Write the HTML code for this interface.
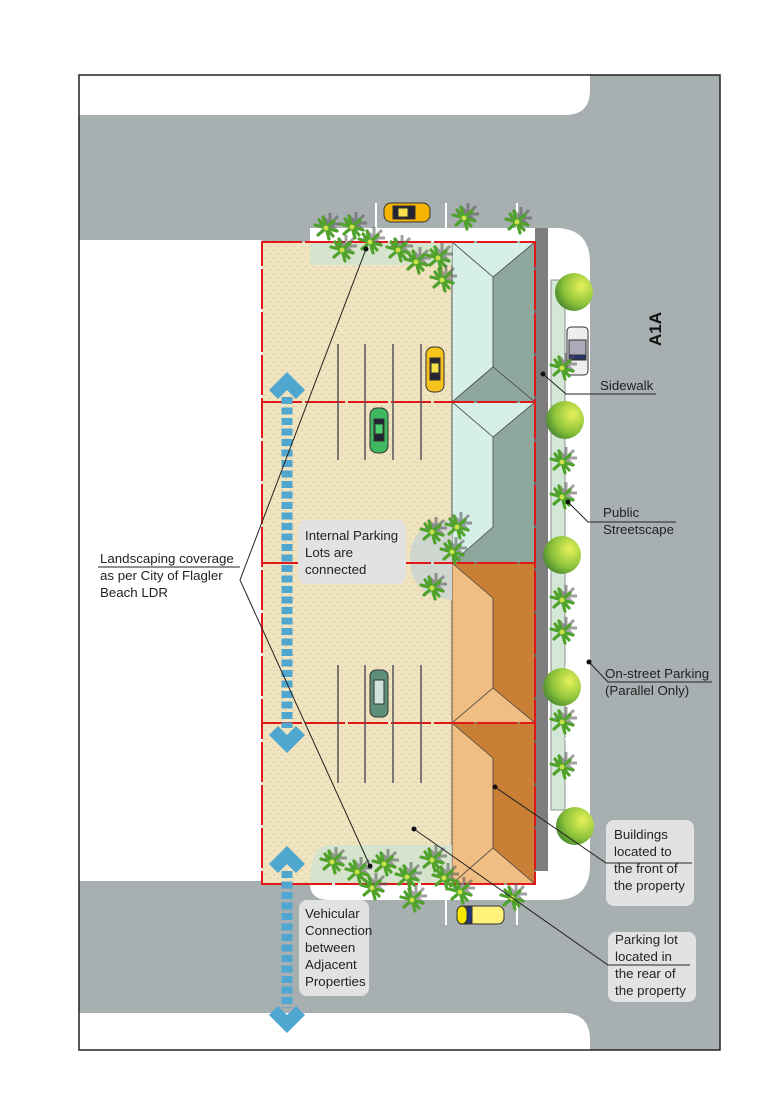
<!DOCTYPE html>
<html><head><meta charset="utf-8"><style>
html,body{margin:0;padding:0;background:#fff;}
svg{display:block;}
text{font-family:"Liberation Sans",sans-serif;font-size:13.3px;fill:#222;}
</style></head><body>
<svg width="780" height="1120" viewBox="0 0 780 1120" xmlns="http://www.w3.org/2000/svg">
<defs>
<symbol id="palm" viewBox="-12 -12 24 24" overflow="visible">
<g stroke="#555" stroke-width="3" opacity="0.55" transform="translate(4,-4)">
<line x1="-11" y1="0" x2="11" y2="0"/><line x1="0" y1="-11" x2="0" y2="11"/><line x1="-8" y1="-8" x2="8" y2="8"/><line x1="-8" y1="8" x2="8" y2="-8"/></g>
<g stroke="#4fa32a" stroke-width="3.2" stroke-linecap="round">
<line x1="-11" y1="-3" x2="11" y2="3"/><line x1="-3" y1="-11" x2="3" y2="11"/><line x1="-8" y1="7" x2="8" y2="-7"/><line x1="-7" y1="-8" x2="7" y2="8"/></g>
<circle r="2.5" fill="#c9e04a"/>
</symbol>
<radialGradient id="tg" cx="0.7" cy="0.35" r="0.8"><stop offset="0" stop-color="#e6f25a"/><stop offset="0.6" stop-color="#8cc23a"/><stop offset="1" stop-color="#3f7f2f"/></radialGradient>
<pattern id="dots" width="8" height="8" patternUnits="userSpaceOnUse"><rect width="8" height="8" fill="#efe3c0"/><rect x="1" y="2" width="2" height="1" fill="#d8c9a0"/><rect x="5" y="6" width="2" height="1" fill="#d8c9a0"/></pattern>
</defs>
<rect x="79" y="75" width="641" height="975" fill="#a7afb0"/>
<path d="M79 75 H590 V90 Q590 115 565 115 H79 Z" fill="#fff"/>
<rect x="79" y="240" width="183" height="641" fill="#fff"/>
<path d="M79 1050 H590 V1040 Q590 1013 563 1013 H79 Z" fill="#fff"/>
<path d="M310 228 H555 Q590 228 590 263 V865 Q590 900 555 900 H330 Q310 900 310 884 V228 Z" fill="#fff"/>
<rect x="535" y="228" width="13" height="643" fill="#7d7d7d"/>
<rect x="551" y="280" width="14" height="530" fill="#d3e8d6" stroke="#777" stroke-width="0.8"/>
<g stroke="#fff" stroke-width="2">
<line x1="565" y1="370" x2="590" y2="370"/><line x1="565" y1="410" x2="590" y2="410"/><line x1="565" y1="538" x2="590" y2="538"/><line x1="565" y1="597" x2="590" y2="597"/><line x1="565" y1="667" x2="590" y2="667"/><line x1="565" y1="739" x2="590" y2="739"/>
<line x1="376" y1="203" x2="376" y2="228"/><line x1="446" y1="203" x2="446" y2="228"/><line x1="517" y1="203" x2="517" y2="228"/>
<line x1="446" y1="900" x2="446" y2="925"/><line x1="517" y1="900" x2="517" y2="925"/>
</g>
<rect x="262" y="242" width="190" height="642" fill="url(#dots)"/>
<g stroke="#444" stroke-width="0.8">
<rect x="452" y="242" width="83" height="160" fill="#8fa89e"/>
<polygon points="452,242 535,242 493,277" fill="#d6efe8"/><polygon points="452,242 493,277 493,367 452,402" fill="#d6efe8"/><polygon points="452,402 493,367 535,402" fill="#8fa89e"/>
<rect x="452" y="402" width="83" height="161" fill="#8fa89e"/>
<polygon points="452,402 535,402 493,437 " fill="#d6efe8"/><polygon points="452,402 493,437 493,527 452,563" fill="#d6efe8"/>
<rect x="452" y="563" width="83" height="160" fill="#c97f35"/>
<polygon points="452,563 493,598 493,688 452,723" fill="#f0bd82"/><polygon points="452,723 493,688 535,723" fill="#f0bd82"/>
<rect x="452" y="723" width="83" height="161" fill="#c97f35"/>
<polygon points="452,723 493,758 493,848 452,884" fill="#f0bd82"/><polygon points="452,884 493,848 535,884" fill="#f0bd82"/>
</g>
<path d="M310 242 H452 V265 H310 Z" fill="#cfe3d0" opacity="0.8"/>
<path d="M330 845 H452 V884 H310 Q310 845 330 845 Z" fill="#cfe3d0" opacity="0.8"/>
<path d="M452 520 V600 Q410 595 410 560 Q410 522 452 520 Z" fill="#cfd6cf"/>
<g stroke="#e01818" stroke-width="2" fill="none" stroke-dasharray="40 3">
<rect x="262" y="242" width="273" height="642"/>
<line x1="262" y1="402" x2="535" y2="402"/><line x1="262" y1="563" x2="535" y2="563"/><line x1="262" y1="723" x2="535" y2="723"/>
</g>
<g stroke="#555" stroke-width="1.5">
<line x1="338" y1="344" x2="338" y2="460"/><line x1="365" y1="344" x2="365" y2="460"/><line x1="393" y1="344" x2="393" y2="460"/><line x1="421" y1="344" x2="421" y2="460"/>
<line x1="338" y1="665" x2="338" y2="783"/><line x1="365" y1="665" x2="365" y2="783"/><line x1="393" y1="665" x2="393" y2="783"/><line x1="421" y1="665" x2="421" y2="783"/>
</g>
<g stroke="#333" stroke-width="1">
<rect x="426" y="347" width="18" height="45" rx="7" fill="#f6c21c"/><rect x="430" y="358" width="10" height="22" fill="#223" /><rect x="431" y="363" width="8" height="10" fill="#f6e04a"/>
<rect x="370" y="408" width="18" height="45" rx="7" fill="#3fb860"/><rect x="374" y="419" width="10" height="22" fill="#223"/><rect x="375" y="424" width="8" height="10" fill="#4fd070"/>
<rect x="370" y="670" width="18" height="47" rx="6" fill="#5f8f7a"/><rect x="374" y="680" width="10" height="24" fill="#cfe2dc"/>
<rect x="567" y="327" width="21" height="48" rx="4" fill="#eee"/><rect x="569" y="340" width="17" height="20" fill="#aab"/><rect x="569" y="355" width="17" height="4" fill="#22337a"/>
<rect x="384" y="203" width="46" height="19" rx="7" fill="#f4b400"/><rect x="393" y="206" width="22" height="13" fill="#223"/><rect x="398" y="208" width="10" height="9" fill="#f6e04a"/>
<rect x="457" y="906" width="47" height="18" rx="6" fill="#fff27a"/><rect x="466" y="907" width="6" height="16" fill="#22337a"/><rect x="457" y="906" width="10" height="18" rx="6" fill="#f8e800"/>
</g>
<g fill="url(#tg)">
<circle cx="574" cy="292" r="19"/><circle cx="565" cy="420" r="19"/><circle cx="562" cy="555" r="19"/><circle cx="562" cy="687" r="19"/><circle cx="575" cy="826" r="19"/>
</g>
<g>
<use href="#palm" x="314" y="216" width="24" height="24"/>
<use href="#palm" x="330" y="238" width="24" height="24"/>
<use href="#palm" x="358" y="230" width="24" height="24"/>
<use href="#palm" x="386" y="238" width="24" height="24"/>
<use href="#palm" x="404" y="250" width="24" height="24"/>
<use href="#palm" x="426" y="246" width="24" height="24"/>
<use href="#palm" x="430" y="268" width="24" height="24"/>
<use href="#palm" x="452" y="206" width="24" height="24"/>
<use href="#palm" x="505" y="210" width="24" height="24"/>
<use href="#palm" x="340" y="215" width="24" height="24"/>
<use href="#palm" x="420" y="520" width="24" height="24"/>
<use href="#palm" x="440" y="540" width="24" height="24"/>
<use href="#palm" x="420" y="576" width="24" height="24"/>
<use href="#palm" x="445" y="515" width="24" height="24"/>
<use href="#palm" x="550" y="356" width="24" height="24"/>
<use href="#palm" x="550" y="450" width="24" height="24"/>
<use href="#palm" x="550" y="485" width="24" height="24"/>
<use href="#palm" x="550" y="588" width="24" height="24"/>
<use href="#palm" x="550" y="620" width="24" height="24"/>
<use href="#palm" x="550" y="710" width="24" height="24"/>
<use href="#palm" x="550" y="755" width="24" height="24"/>
<use href="#palm" x="320" y="850" width="24" height="24"/>
<use href="#palm" x="345" y="860" width="24" height="24"/>
<use href="#palm" x="372" y="852" width="24" height="24"/>
<use href="#palm" x="395" y="865" width="24" height="24"/>
<use href="#palm" x="420" y="848" width="24" height="24"/>
<use href="#palm" x="432" y="866" width="24" height="24"/>
<use href="#palm" x="360" y="876" width="24" height="24"/>
<use href="#palm" x="400" y="888" width="24" height="24"/>
<use href="#palm" x="448" y="880" width="24" height="24"/>
<use href="#palm" x="500" y="886" width="24" height="24"/>
</g>
<g fill="#4fa6cf">
<path d="M287 372 L305 390 L296 399 L287 390 L278 399 L269 390 Z"/>
<path d="M287 753 L305 735 L296 726 L287 735 L278 726 L269 735 Z"/>
<path d="M287 846 L305 864 L296 873 L287 864 L278 873 L269 864 Z"/>
<path d="M287 1033 L305 1015 L296 1006 L287 1015 L278 1006 L269 1015 Z"/>
</g>
<line x1="287" y1="397" x2="287" y2="728" stroke="#4fa6cf" stroke-width="11" stroke-dasharray="7 3.5"/>
<line x1="287" y1="871" x2="287" y2="1008" stroke="#4fa6cf" stroke-width="11" stroke-dasharray="7 3.5"/>
<rect x="79" y="75" width="641" height="975" fill="none" stroke="#222" stroke-width="1.5"/>
<g fill="#e2e2e2">
<rect x="298" y="520" width="108" height="64" rx="8"/>
<rect x="299" y="900" width="70" height="96" rx="8"/>
<rect x="606" y="820" width="88" height="86" rx="8"/>
<rect x="608" y="932" width="88" height="70" rx="8"/>
</g>
<g stroke="#222" stroke-width="1" fill="none">
<polyline points="366,249 240,580 370,866"/>
<line x1="98" y1="567" x2="240" y2="567"/>
<polyline points="543,374 566,394 656,394"/>
<polyline points="568,502 588,522 676,522"/>
<polyline points="589,662 608,682 712,682"/>
<polyline points="495,787 606,863 692,863"/>
<polyline points="414,829 608,965 690,965"/>
</g>
<g fill="#111">
<circle cx="366" cy="249" r="2.5"/><circle cx="370" cy="866" r="2.5"/><circle cx="543" cy="374" r="2.5"/><circle cx="568" cy="502" r="2.5"/><circle cx="589" cy="662" r="2.5"/><circle cx="495" cy="787" r="2.5"/><circle cx="414" cy="829" r="2.5"/>
</g>
<text x="100" y="563">Landscaping coverage</text>
<text x="100" y="580">as per City of Flagler</text>
<text x="100" y="597">Beach LDR</text>
<text x="305" y="540">Internal Parking</text>
<text x="305" y="557">Lots are</text>
<text x="305" y="574">connected</text>
<text x="305" y="918">Vehicular</text>
<text x="305" y="935">Connection</text>
<text x="305" y="952">between</text>
<text x="305" y="969">Adjacent</text>
<text x="305" y="986">Properties</text>
<text x="600" y="390">Sidewalk</text>
<text x="603" y="517">Public</text>
<text x="603" y="534">Streetscape</text>
<text x="605" y="678">On-street Parking</text>
<text x="605" y="695">(Parallel Only)</text>
<text x="614" y="839">Buildings</text>
<text x="614" y="856">located to</text>
<text x="614" y="873">the front of</text>
<text x="614" y="890">the property</text>
<text x="615" y="944">Parking lot</text>
<text x="615" y="961">located in</text>
<text x="615" y="978">the rear of</text>
<text x="615" y="995">the property</text>
<text x="0" y="0" transform="translate(661,346) rotate(-90)" style="font-weight:bold;font-size:17px;fill:#111">A1A</text>
</svg>
</body></html>
